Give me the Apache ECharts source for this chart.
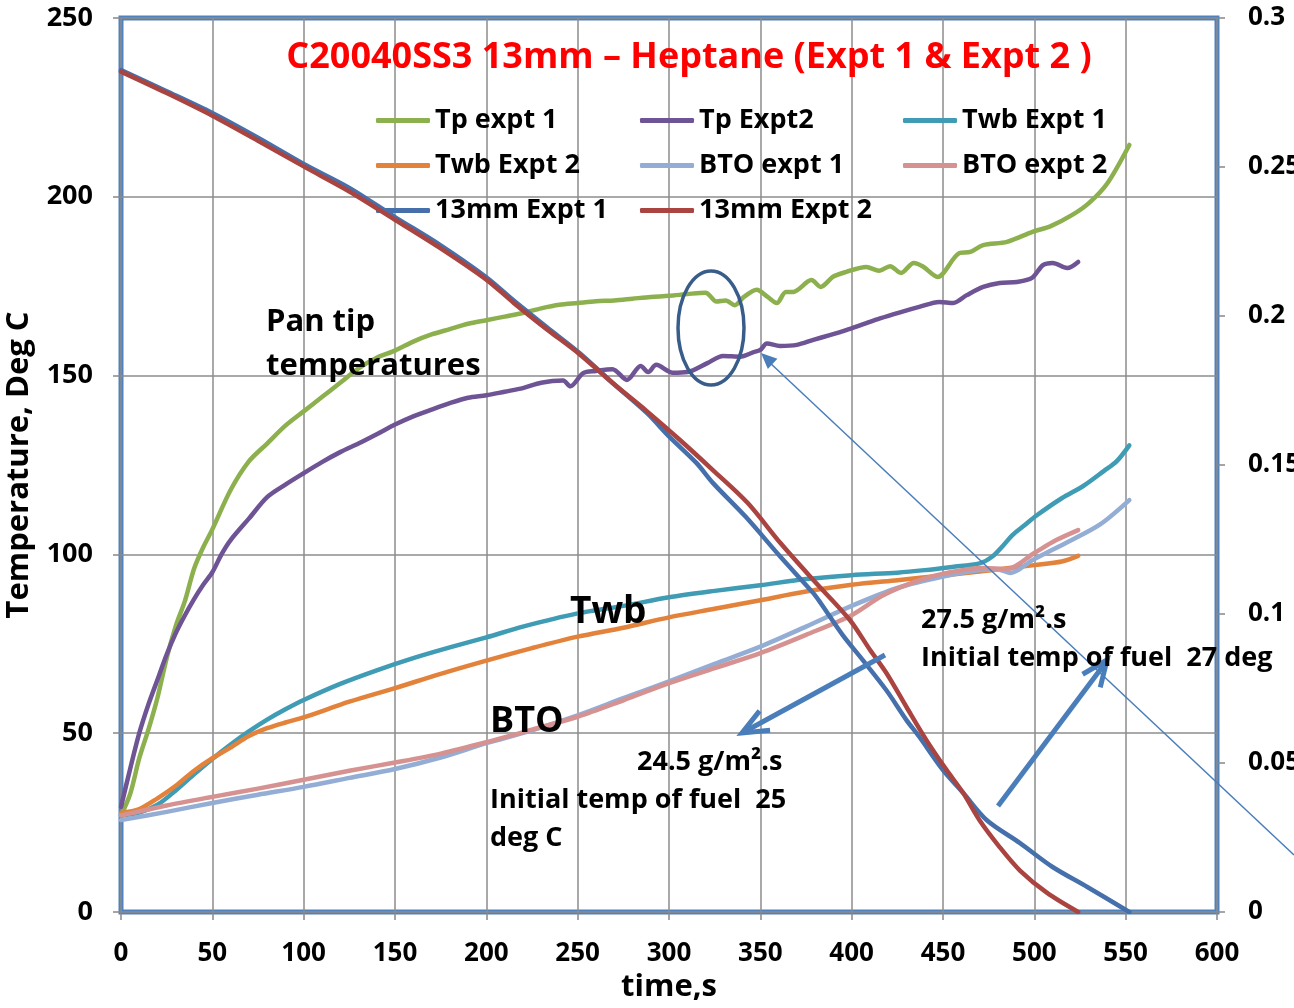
<!DOCTYPE html>
<html>
<head>
<meta charset="utf-8">
<script src="https://cdn.jsdelivr.net/npm/echarts@6/dist/echarts.min.js"></script>
<style>
html,body{margin:0;padding:0;background:#fff;}
#c{width:1294px;height:1008px;}
</style>
</head>
<body>
<div id="c"></div>
<script>
// ---- data (time s, value) ----
const tpExpt1 = [[0,27],[5,33],[10,43],[15,51],[20,60],[25,71],[30,80],[35,87],[40,96],[45,102],[50,107],[60,118],[70,126],[80,131],[90,136],[100,140],[110,144],[120,148],[130,152],[140,155],[150,157],[160,159.5],[170,161.5],[180,163],[190,164.5],[200,165.5],[210,166.5],[220,167.5],[230,168.8],[240,169.8],[250,170.3],[260,170.8],[270,171],[280,171.5],[290,172],[300,172.3],[310,172.8],[320,173.2],[326,170.7],[331,171],[336,169.7],[341,172],[348,174],[354,172],[359,170.3],[364,173.4],[368,173.4],[378,176.7],[383,174.8],[390,177.7],[397,179],[408,180.4],[415,179.3],[421,180.6],[427,178.7],[434,181.5],[439,180.5],[447,177.6],[459,184.3],[465,184.6],[472,186.5],[485,187.4],[499,190.2],[509,191.8],[521,195],[530,198.3],[540,203.8],[552,214.5]];
const tpExpt2 = [[0,29.4],[5,40],[10,50],[15,58],[20,65],[25,72],[30,78],[35,83],[40,87.5],[45,91.5],[50,95],[55,100],[60,104],[70,110],[80,116],[90,119.5],[100,122.7],[110,125.8],[120,128.6],[130,131],[140,133.6],[150,136.3],[160,138.6],[170,140.5],[180,142.3],[190,143.8],[200,144.5],[210,145.5],[220,146.5],[230,148],[242,148.6],[246,147],[253,150.7],[260,151.3],[269,151.8],[277,148.8],[284.5,152.7],[288.6,151],[293,153],[302,150.8],[310,151],[321,153.5],[329.6,155.5],[339,155.3],[346,156.5],[350,157.2],[353.6,159],[360.8,158.3],[370,158.6],[379,160],[388,161.3],[397,162.7],[406,164.3],[415.5,166],[426.5,167.7],[437,169.2],[448,170.6],[455.6,170.3],[463,172.5],[472,174.8],[481,175.9],[490.5,176.2],[498.7,177.3],[504.7,180.9],[510,181.5],[518,180.1],[524,181.8]];
const twbExpt1 = [[0,27],[10,27.8],[20,30],[30,34],[40,38.5],[50,42.8],[60,46.8],[70,50.5],[80,53.8],[90,56.7],[100,59.3],[120,63.8],[140,67.6],[160,71],[180,74],[200,76.8],[220,79.8],[250,83.5],[275,85.6],[300,88],[325,89.8],[350,91.4],[375,93.1],[400,94.2],[425,94.9],[440,95.6],[455,96.5],[470,97.5],[477,99.4],[483,102.5],[488,105.4],[495,108.3],[501,110.8],[515,115.7],[527,119.2],[538,123.3],[545,126],[552,130.5]];
const twbExpt2 = [[0,27.7],[10,28.8],[20,31.8],[30,35.3],[40,39.5],[50,43],[60,46],[70,49.2],[80,51.4],[90,53],[100,54.4],[125,58.8],[150,62.6],[175,66.6],[200,70.3],[225,73.8],[250,77],[275,79.5],[300,82.4],[325,84.8],[350,87.2],[375,89.6],[400,91.5],[425,92.8],[450,94.1],[475,95.5],[500,97],[515,98],[524,99.6]];
const btoExpt1 = [[0,25.7],[25,28],[50,30.5],[75,32.8],[100,35],[125,37.5],[150,40],[175,43.2],[200,47.2],[225,50.8],[250,55],[275,59.8],[300,64.5],[325,69.4],[350,74.2],[375,79.8],[400,85.6],[425,90.6],[450,93.8],[470,95.6],[480,95.8],[487,94.8],[499,98.4],[518,103.4],[536,108.4],[552,115.2]];
const btoExpt2 = [[0,27],[25,29.8],[50,32.2],[75,34.5],[100,37],[125,39.5],[150,41.8],[175,44.3],[200,47.5],[225,51],[250,54.6],[275,59.2],[300,64],[325,68.2],[350,72.4],[375,77.5],[400,83],[417,88.5],[436,92.6],[454,95],[472,96.2],[485,95.9],[500,100.4],[512,104],[524,106.8]];
// 13mm series on the right axis
const mm13Expt1 = [[0,0.2825],[25,0.2754],[50,0.2681],[75,0.2598],[100,0.2510],[125,0.2430],[150,0.2332],[175,0.2237],[200,0.2130],[215,0.2052],[233,0.1963],[251,0.1876],[269,0.1776],[288,0.1674],[300,0.1596],[315,0.1507],[324,0.1440],[342,0.1326],[361,0.1192],[379,0.1070],[383,0.1037],[395,0.0930],[406,0.0846],[419,0.0744],[430,0.0644],[437,0.0588],[450,0.0476],[461,0.0400],[474,0.0308],[492,0.0232],[510,0.0151],[529,0.0084],[552,0]];
const mm13Expt2 = [[0,0.2820],[25,0.2748],[50,0.2672],[75,0.2588],[100,0.2502],[125,0.2418],[150,0.2323],[175,0.2227],[200,0.2122],[215,0.2044],[233,0.1956],[251,0.1872],[269,0.1776],[288,0.1680],[306,0.1584],[324,0.1483],[343,0.1373],[361,0.1238],[379,0.1114],[399,0.0980],[410,0.0880],[419,0.0802],[430,0.0688],[441,0.0576],[452,0.0476],[461,0.0400],[470,0.0308],[481,0.0218],[492,0.0140],[507,0.0064],[524,0]];

const seriesNames = ['Tp expt 1','Tp Expt2','Twb Expt 1','Twb Expt 2','BTO expt 1','BTO expt 2','13mm Expt 1','13mm Expt 2'];
const seriesData = [tpExpt1,tpExpt2,twbExpt1,twbExpt2,btoExpt1,btoExpt2,mm13Expt1,mm13Expt2];
const seriesAxis = [0,0,0,0,0,0,1,1];
const colors = ['#8DB04F','#6F5495','#3F9CB4','#E3823A','#93ADD5','#D59291','#4570AB','#AA4441'];

const FONT = 'Open Sans';
const chart = echarts.init(document.getElementById('c'));

const legendCommon = {
  orient:'vertical', icon:'roundRect', itemWidth:54, itemHeight:5, itemGap:18, padding:0,
  textStyle:{fontFamily:FONT,fontWeight:'bold',fontSize:27,color:'#000',lineHeight:27},
  selectedMode:false
};

function arrowHead(tx,ty,fx,fy,len,half){
  const dx=tx-fx, dy=ty-fy, L=Math.hypot(dx,dy), ux=dx/L, uy=dy/L;
  const bx=tx-ux*len, by=ty-uy*len;
  return [[bx-uy*half,by+ux*half],[tx,ty],[bx+uy*half,by-ux*half]];
}

const annColor = '#4A7EBB';
const txt = (x,y,text,size)=>({type:'text',x:x,y:y,z:50,style:{text:text,fontFamily:FONT,fontWeight:'bold',fontSize:size,fill:'#000',textVerticalAlign:'middle'}});

chart.setOption({
  animation:false,
  backgroundColor:'#fff',
  title:{text:'C20040SS3 13mm – Heptane (Expt 1 & Expt 2 )',left:689,top:40,textAlign:'center',padding:0,
    textStyle:{fontFamily:FONT,fontWeight:'bold',fontSize:36,color:'#FF0000'}},
  legend:[
    Object.assign({left:376,top:107,data:['Tp expt 1','Twb Expt 2','13mm Expt 1']},legendCommon),
    Object.assign({left:640,top:107,data:['Tp Expt2','BTO expt 1','13mm Expt 2']},legendCommon),
    Object.assign({left:903,top:107,data:['Twb Expt 1','BTO expt 2']},legendCommon)
  ],
  grid:{left:121,right:77,top:18,bottom:96,show:true,outerBoundsMode:'none',containLabel:false,
    borderColor:'#4F81BD',borderWidth:5,backgroundColor:'transparent'},
  xAxis:{type:'value',min:0,max:600,interval:50,name:'time,s',nameLocation:'middle',nameGap:50,
    nameTextStyle:{fontFamily:FONT,fontWeight:'bold',fontSize:31,color:'#000'},
    axisLine:{show:false},axisTick:{show:true,length:8,lineStyle:{color:'#888',width:1.5}},
    axisLabel:{margin:29,fontFamily:FONT,fontWeight:'bold',fontSize:26,color:'#000'},
    splitLine:{show:true,lineStyle:{color:'#8C8C8C',width:1.5}}},
  yAxis:[
    {type:'value',min:0,max:250,interval:50,name:'Temperature, Deg C',nameLocation:'middle',nameGap:86,
     nameTextStyle:{fontFamily:FONT,fontWeight:'bold',fontSize:31,color:'#000'},
     axisLine:{show:false},axisTick:{show:true,length:8,lineStyle:{color:'#888',width:1.5}},
     axisLabel:{margin:28,fontFamily:FONT,fontWeight:'bold',fontSize:27,color:'#000'},
     splitLine:{show:true,lineStyle:{color:'#8C8C8C',width:1.5}}},
    {type:'value',min:0,max:0.3,interval:0.05,position:'right',
     axisLine:{show:false},axisTick:{show:true,length:8,lineStyle:{color:'#888',width:1.5}},
     axisLabel:{margin:31,fontFamily:FONT,fontWeight:'bold',fontSize:26,color:'#000',align:'left'},
     splitLine:{show:false}}
  ],
  series: seriesNames.map((n,i)=>({
    name:n,type:'line',yAxisIndex:seriesAxis[i],data:seriesData[i],showSymbol:false,symbol:'none',
    smooth:0.3,lineStyle:{color:colors[i],width:4.5,cap:'round',join:'round'},itemStyle:{color:colors[i]},
    z:2+i
  })),
  graphic:[
    txt(266,322,'Pan tip',31),
    txt(266,366,'temperatures',31),
    txt(570,612,'Twb',37),
    txt(490,722,'BTO',36),
    txt(637,762,'24.5 g/m².s',27),
    txt(490,800,'Initial temp of fuel  25',27),
    txt(490,838,'deg C',27),
    txt(921,620,'27.5 g/m².s',27),
    txt(921,658,'Initial temp of fuel  27 deg',27),
    {type:'ellipse',z:40,shape:{cx:711,cy:328,rx:33,ry:57},style:{fill:'none',stroke:'#385D8A',lineWidth:3.5}},
    {type:'line',z:40,shape:{x1:885,y1:655,x2:744,y2:732},style:{stroke:annColor,lineWidth:5}},
    {type:'polyline',z:40,shape:{points:arrowHead(742,733,885,655,26,11)},style:{stroke:annColor,lineWidth:5,fill:'none'}},
    {type:'line',z:40,shape:{x1:998,y1:806,x2:1106,y2:662},style:{stroke:annColor,lineWidth:5}},
    {type:'polyline',z:40,shape:{points:arrowHead(1107,660,998,806,26,11)},style:{stroke:annColor,lineWidth:5,fill:'none'}},
    {type:'line',z:40,shape:{x1:1294,y1:855,x2:768,y2:361},style:{stroke:annColor,lineWidth:1.5}},
    {type:'polygon',z:40,shape:{points:arrowHead(761,353,1294,855,16,7)},style:{fill:annColor}}
  ]
});
</script>
</body>
</html>
